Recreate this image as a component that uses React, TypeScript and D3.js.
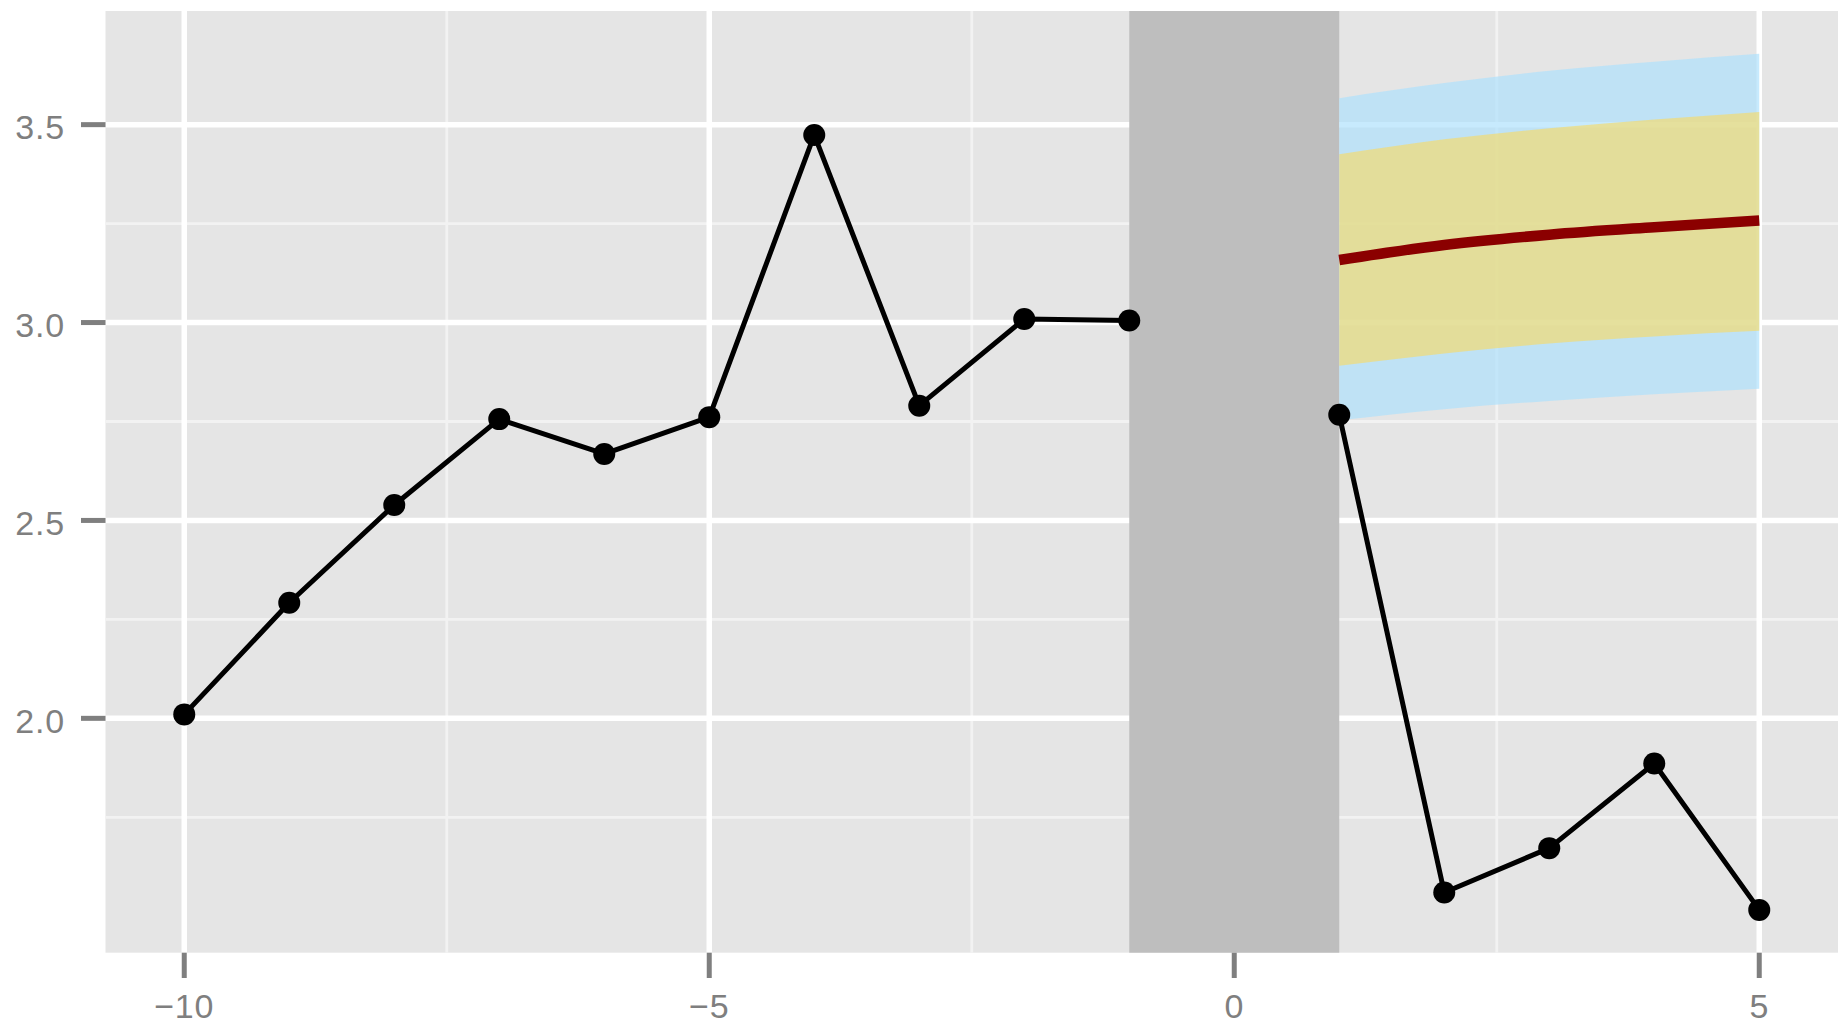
import React from 'react';
import * as d3 from 'd3';

// observed series (x = 0 is missing)
const obsX = [-10, -9, -8, -7, -6, -5, -4, -3, -2, -1, 0, 1, 2, 3, 4, 5];
const obsY: (number | null)[] = [2.01, 2.292, 2.539, 2.756, 2.668, 2.761, 3.474, 2.79, 3.009, 3.005, null, 2.767, 1.56, 1.672, 1.886, 1.516];

// forecast with 80% / 95% bands
const fcX = [1, 2, 3, 4, 5];
const fcMean = [3.158, 3.196, 3.222, 3.241, 3.258];
const lo80 = [2.891, 2.922, 2.947, 2.965, 2.979];
const hi80 = [3.425, 3.463, 3.491, 3.513, 3.532];
const lo95 = [2.753, 2.781, 2.802, 2.819, 2.833];
const hi95 = [3.567, 3.605, 3.636, 3.659, 3.679];

// shaded window
const shadeRange = [-1, 1];

const xBreaks = [-10, -5, 0, 5];
const xMinor = [-7.5, -2.5, 2.5];
const yBreaks = [2.0, 2.5, 3.0, 3.5];
const yMinor = [1.75, 2.25, 2.75, 3.25];

const W = 1844;
const H = 1030;
const panel = { left: 105.5, right: 1838, top: 11, bottom: 952.7 };
const FONT = '"Liberation Sans", Arial, Helvetica, sans-serif';

const expand = (lo: number, hi: number) => {
  const pad = (hi - lo) * 0.05;
  return [lo - pad, hi + pad];
};

const App = () => {
  const yVals = [...(obsY.filter((v) => v != null) as number[]), ...lo95, ...hi95];
  const xScale = d3.scaleLinear()
    .domain(expand(d3.min(obsX)!, d3.max(obsX)!))
    .range([panel.left, panel.right]);
  const yScale = d3.scaleLinear()
    .domain(expand(d3.min(yVals)!, d3.max(yVals)!))
    .range([panel.bottom, panel.top]);

  const obs = obsX.map((x, i) => ({ x, y: obsY[i] }));
  const fc = fcX.map((x, i) => ({ x, m: fcMean[i], l80: lo80[i], h80: hi80[i], l95: lo95[i], h95: hi95[i] }));

  const obsLine = d3.line<any>()
    .defined((d) => d.y != null)
    .x((d) => xScale(d.x))
    .y((d) => yScale(d.y));

  // forecast curves are smooth in the original
  const band95 = d3.area<any>()
    .curve(d3.curveMonotoneX)
    .x((d) => xScale(d.x))
    .y0((d) => yScale(d.l95))
    .y1((d) => yScale(d.h95));
  const band80 = d3.area<any>()
    .curve(d3.curveMonotoneX)
    .x((d) => xScale(d.x))
    .y0((d) => yScale(d.l80))
    .y1((d) => yScale(d.h80));
  const meanLine = d3.line<any>()
    .curve(d3.curveMonotoneX)
    .x((d) => xScale(d.x))
    .y((d) => yScale(d.m));

  const fmt = d3.format('.1f');
  const pw = panel.right - panel.left;
  const ph = panel.bottom - panel.top;

  return (
    <svg width={W} height={H} style={{ position: 'absolute', left: 0, top: 0, display: 'block' }}>
      <rect x={0} y={0} width={W} height={H} fill="#ffffff" />
      <rect x={panel.left} y={panel.top} width={pw} height={ph} fill="#E5E5E5" />

      {/* minor grid */}
      {yMinor.map((v) => (
        <line key={'ym' + v} x1={panel.left} x2={panel.right} y1={yScale(v)} y2={yScale(v)} stroke="#F2F2F2" strokeWidth={2.8} />
      ))}
      {xMinor.map((v) => (
        <line key={'xm' + v} x1={xScale(v)} x2={xScale(v)} y1={panel.top} y2={panel.bottom} stroke="#F2F2F2" strokeWidth={2.8} />
      ))}
      {/* major grid */}
      {yBreaks.map((v) => (
        <line key={'yg' + v} x1={panel.left} x2={panel.right} y1={yScale(v)} y2={yScale(v)} stroke="#ffffff" strokeWidth={5.5} />
      ))}
      {xBreaks.map((v) => (
        <line key={'xg' + v} x1={xScale(v)} x2={xScale(v)} y1={panel.top} y2={panel.bottom} stroke="#ffffff" strokeWidth={5.5} />
      ))}

      <rect
        x={xScale(shadeRange[0])}
        y={panel.top}
        width={xScale(shadeRange[1]) - xScale(shadeRange[0])}
        height={ph}
        fill="#BEBEBE"
      />

      <path d={band95(fc) || ''} fill="rgb(175,225,252)" fillOpacity={0.7} />
      <path d={band80(fc) || ''} fill="rgb(242,219,116)" fillOpacity={0.7} />
      <path d={meanLine(fc) || ''} fill="none" stroke="#8B0000" strokeWidth={10.5} />

      <path d={obsLine(obs) || ''} fill="none" stroke="#000000" strokeWidth={5} strokeLinejoin="round" />
      {obs.filter((d) => d.y != null).map((d) => (
        <circle key={'p' + d.x} cx={xScale(d.x)} cy={yScale(d.y as number)} r={11} fill="#000000" />
      ))}

      {/* axes */}
      {yBreaks.map((v) => (
        <g key={'yt' + v}>
          <line x1={81} x2={panel.left} y1={yScale(v)} y2={yScale(v)} stroke="#7F7F7F" strokeWidth={5} />
          <text x={65} y={yScale(v) + 14.6} textAnchor="end" fontFamily={FONT} fontSize={34} letterSpacing={0.8} fill="#7F7F7F">
            {fmt(v)}
          </text>
        </g>
      ))}
      {xBreaks.map((v) => (
        <g key={'xt' + v}>
          <line x1={xScale(v)} x2={xScale(v)} y1={panel.bottom} y2={978} stroke="#7F7F7F" strokeWidth={5} />
          <text x={xScale(v)} y={1017.7} textAnchor="middle" fontFamily={FONT} fontSize={34} letterSpacing={0.8} fill="#7F7F7F">
            {d3.format('d')(v)}
          </text>
        </g>
      ))}
    </svg>
  );
};

export default App;
